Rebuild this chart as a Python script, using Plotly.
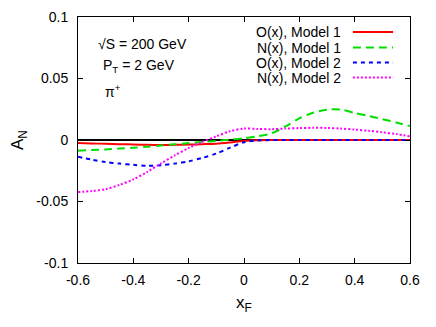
import plotly.graph_objects as go

# x_F grid
x_f = [-0.6, -0.55, -0.5, -0.45, -0.4, -0.35, -0.3, -0.25, -0.2, -0.15, -0.1, -0.05,
       0.0, 0.05, 0.1, 0.15, 0.2, 0.25, 0.3, 0.35, 0.4, 0.45, 0.5, 0.55, 0.6]

# A_N curves
o_model1 = [-0.0025, -0.0028, -0.0031, -0.0034, -0.0037, -0.0039, -0.004, -0.0039, -0.0037,
            -0.0034, -0.003, -0.002, -0.0008, -0.0002, 0.0, 0.0, 0.0, 0.0, 0.0, 0.0, 0.0,
            0.0, 0.0, 0.0, 0.0]
n_model1 = [-0.0087, -0.0082, -0.0077, -0.007, -0.0063, -0.0055, -0.0045, -0.0035, -0.0025,
            -0.0016, -0.0008, 0.0003, 0.0015, 0.003, 0.0055, 0.011, 0.0176, 0.0222, 0.0247,
            0.0247, 0.022, 0.0195, 0.017, 0.0142, 0.0114]
o_model2 = [-0.0136, -0.016, -0.018, -0.0192, -0.0202, -0.021, -0.0205, -0.0192, -0.0173,
            -0.0145, -0.011, -0.0062, -0.0018, -0.0004, 0.0, 0.0, 0.0, 0.0, 0.0, 0.0, 0.0,
            0.0, 0.0, 0.0, 0.0]
n_model2 = [-0.0423, -0.0415, -0.04, -0.0365, -0.032, -0.026, -0.019, -0.0125, -0.0065,
            -0.0015, 0.003, 0.0072, 0.0093, 0.009, 0.0088, 0.0093, 0.0097, 0.0099, 0.0098,
            0.0093, 0.0085, 0.0075, 0.0063, 0.0048, 0.003]

x_ticks = [-0.6, -0.4, -0.2, 0, 0.2, 0.4, 0.6]
x_labels = ["-0.6", "-0.4", "-0.2", "0", "0.2", "0.4", "0.6"]
y_ticks = [-0.1, -0.05, 0, 0.05, 0.1]
y_labels = ["-0.1", "-0.05", "0", "0.05", "0.1"]

series = [
    ("O(x), Model 1", o_model1, "#ff0000", "solid"),
    ("N(x), Model 1", n_model1, "#00e000", "8px,5px"),
    ("O(x), Model 2", o_model2, "#0000ff", "4px,4px"),
    ("N(x), Model 2", n_model2, "#ff00ff", "2px,2px"),
]

FONT = "Liberation Sans, Arial, sans-serif"

fig = go.Figure()

for name, vals, color, dash in series:
    fig.add_trace(go.Scatter(
        x=x_f, y=vals, mode='lines', name=name,
        line=dict(color=color, width=2, dash=dash, shape='spline', smoothing=0.8),
    ))

# gnuplot-style key: text right-aligned, sample on the right
key_y = [0.939, 0.876, 0.815, 0.754]
for (name, vals, color, dash), ky in zip(series, key_y):
    fig.add_annotation(xref='paper', yref='paper', x=0.798, y=ky, text=name,
                       showarrow=False, xanchor='right', yanchor='middle',
                       font=dict(size=14, color='black'))
    fig.add_shape(type='line', xref='paper', yref='paper', x0=0.828, x1=0.949,
                  y0=ky, y1=ky, line=dict(color=color, width=2, dash=dash))

labels = [
    ("\u221aS = 200 GeV", 0.055, 0.89),
    ("P<sub>T</sub> = 2 GeV", 0.068, 0.80),
    ("\u03c0<sup>+</sup>", 0.076, 0.70),
]
for txt, lx, ly in labels:
    fig.add_annotation(xref='paper', yref='paper', x=lx, y=ly, text=txt,
                       showarrow=False, xanchor='left', yanchor='middle',
                       font=dict(size=14, color='black'))

# page body keeps an 8px margin, so the figure is 8px smaller than the window
fig.update_layout(
    width=428, height=319,
    margin=dict(l=70, r=26, t=9, b=64, autoexpand=False),
    paper_bgcolor='white', plot_bgcolor='white',
    font=dict(family=FONT, size=14, color='black'),
    showlegend=False,
)
fig.update_xaxes(
    range=[-0.6, 0.6], tickvals=x_ticks, ticktext=x_labels,
    ticks='inside', ticklen=5, tickcolor='black', tickwidth=1,
    showline=True, linecolor='black', linewidth=1, mirror='allticks',
    showgrid=False, zeroline=False, ticklabelstandoff=4, automargin=True,
    title=dict(text="x<sub>F</sub>", standoff=9),
)
fig.update_yaxes(
    range=[-0.1, 0.1], tickvals=y_ticks, ticktext=y_labels,
    ticks='inside', ticklen=5, tickcolor='black', tickwidth=1,
    showline=True, linecolor='black', linewidth=1, mirror='allticks',
    showgrid=False, zeroline=True, zerolinecolor='black', zerolinewidth=1.5,
    ticklabelstandoff=6, automargin=True,
    title=dict(text="A<sub>N</sub>", standoff=16),
)

fig.write_html("out.html")
